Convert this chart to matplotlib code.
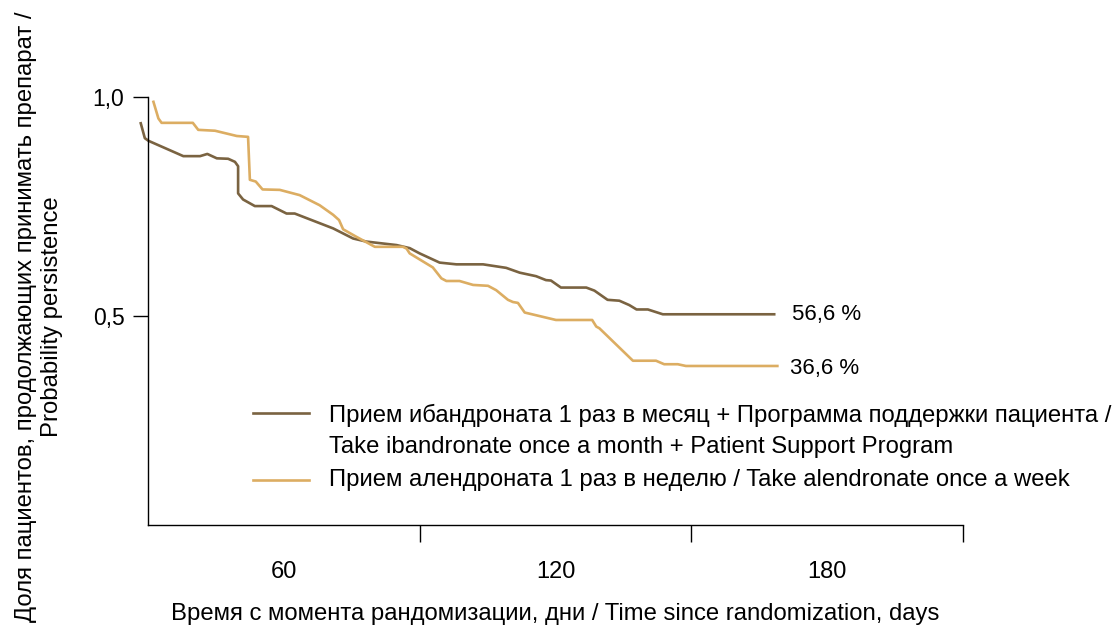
import matplotlib.pyplot as plt

plt.rcParams['font.family'] = ['Liberation Sans', 'DejaVu Sans']

# persistence curves, days since randomization vs probability
days_iband = [-1.6, -0.7, 0.1, 7.8, 11.5, 13.1, 15.2, 17.7, 19.2, 19.9, 19.9, 21.0, 23.6, 27.3,
              30.6, 32.4, 40.9, 45.3, 48.2, 54.9, 57.8, 60.0, 64.4, 68.1, 74.0, 79.1, 82.1,
              85.7, 87.9, 89.0, 91.2, 96.8, 98.6, 101.5, 104.1, 106.3, 107.9, 110.4, 113.7, 138.3]
prob_iband = [0.940, 0.906, 0.900, 0.865, 0.865, 0.870, 0.860, 0.859, 0.852, 0.842, 0.780, 0.766,
              0.751, 0.751, 0.734, 0.734, 0.700, 0.677, 0.670, 0.662, 0.655, 0.643, 0.622, 0.618,
              0.618, 0.610, 0.599, 0.591, 0.582, 0.581, 0.565, 0.565, 0.558, 0.537, 0.535, 0.525,
              0.515, 0.515, 0.504, 0.504]

days_alen = [1.2, 2.3, 3.0, 9.9, 11.1, 14.8, 19.6, 22.1, 22.5, 23.8, 25.3, 29.1, 33.5, 37.9,
             40.9, 42.2, 43.1, 46.0, 50.1, 56.3, 57.1, 57.8, 62.9, 64.8, 65.9, 68.8, 71.8, 75.1,
             76.9, 79.5, 80.6, 81.7, 83.2, 90.1, 98.1, 99.0, 99.7, 107.1, 112.2, 114.0, 117.0,
             118.8, 139.0]
prob_alen = [0.989, 0.951, 0.941, 0.941, 0.925, 0.923, 0.911, 0.909, 0.811, 0.807, 0.789, 0.788,
             0.776, 0.753, 0.731, 0.719, 0.698, 0.681, 0.658, 0.658, 0.654, 0.643, 0.611, 0.586,
             0.580, 0.580, 0.571, 0.569, 0.559, 0.537, 0.532, 0.530, 0.508, 0.491, 0.491, 0.476,
             0.472, 0.398, 0.398, 0.390, 0.390, 0.386, 0.386]

end_labels = ['56,6 %', '36,6 %']
legend_labels = ['Прием ибандроната 1 раз в месяц + Программа поддержки пациента /\n'
                 'Take ibandronate once a month + Patient Support Program',
                 'Прием алендроната 1 раз в неделю / Take alendronate once a week']
x_labels = ['60', '120', '180']

dark = '#7a6341'
light = '#dcad62'

fig = plt.figure(figsize=(11.19, 6.28), dpi=100)
ax = fig.add_axes([148 / 1119, 103 / 628, 815 / 1119, 428 / 628])

ax.plot(days_iband, prob_iband, color=dark, lw=1.9, clip_on=False)
ax.plot(days_alen, prob_alen, color=light, lw=1.9, clip_on=False)

ax.set_xlim(0, 180)
ax.set_ylim(0.023, 1.0)
for s in ['top', 'right']:
    ax.spines[s].set_visible(False)
for s in ['left', 'bottom']:
    ax.spines[s].set_linewidth(1.0)

ax.set_yticks([0.5, 1.0])
ax.set_yticklabels(['0,5', '1,0'], fontsize=16.5)
ax.tick_params(axis='y', length=11, width=1.0, pad=6)

# ticks at the boundaries, labels centred in each 60-day block
ax.set_xticks([60, 120, 180])
ax.set_xticklabels([])
ax.set_xticks([30, 90, 150], minor=True)
ax.set_xticklabels(x_labels, minor=True, fontsize=17)
ax.tick_params(axis='x', which='major', length=12, width=1.0)
ax.tick_params(axis='x', which='minor', length=0, pad=26)

ax.set_xlabel('Время с момента рандомизации, дни / Time since randomization, days',
              fontsize=17.2, labelpad=14)
fig.text(0.035, 0.495, 'Доля пациентов, продолжающих принимать препарат /\nProbability persistence',
         rotation=90, ha='center', va='center', fontsize=17.2, linespacing=1.25)

# final values at the right end of each curve
ax.text(days_iband[-1] + 4, prob_iband[-1], end_labels[0], fontsize=16, va='center')
ax.text(days_alen[-1] + 2.8, prob_alen[-1] - 0.006, end_labels[1], fontsize=16, va='center')

# legend drawn by hand
ax.plot([23.2, 35.6], [0.279, 0.279], color=dark, lw=1.9)
ax.plot([23.2, 35.6], [0.126, 0.126], color=light, lw=1.9)
ax.text(40.0, 0.274, legend_labels[0].split('\n')[0], fontsize=17.2, va='center')
ax.text(40.0, 0.201, legend_labels[0].split('\n')[1], fontsize=17.2, va='center')
ax.text(40.0, 0.126, legend_labels[1], fontsize=17.2, va='center')

fig.savefig('out.png', dpi=100)
